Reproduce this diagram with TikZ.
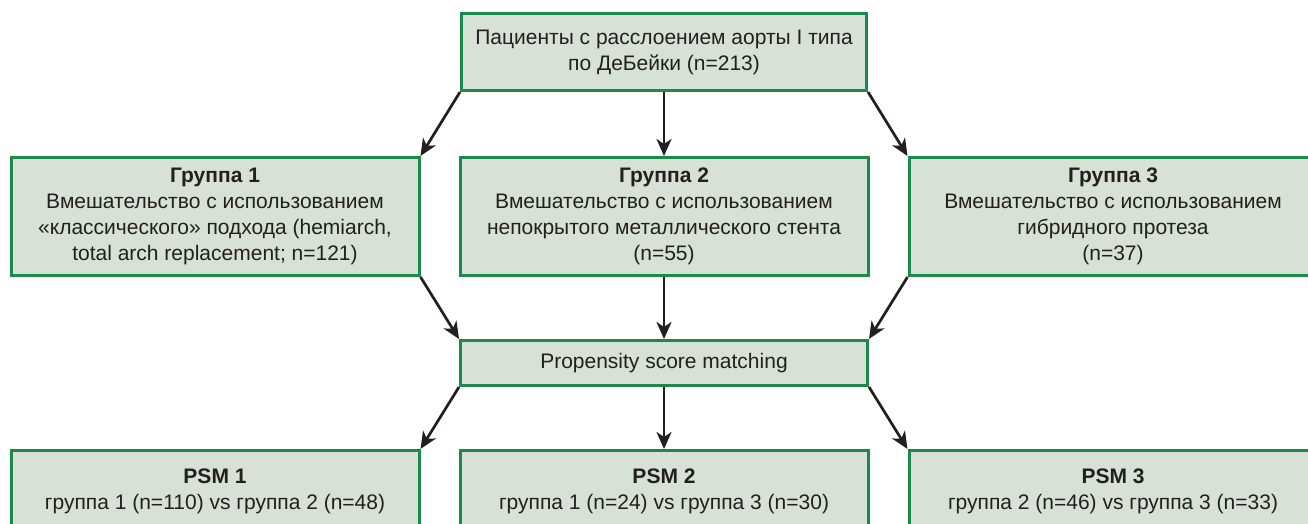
\documentclass[tikz,border=0pt]{standalone}
\usepackage{fontspec}
\setmainfont{Liberation Sans}
\usepackage{tikz}
\usetikzlibrary{arrows.meta,positioning}
\definecolor{boxfill}{HTML}{D7E1D5}
\definecolor{boxline}{HTML}{1B8A4B}
\definecolor{inkdark}{HTML}{231F20}
\tikzset{
  flowbox/.style={draw=boxline, line width=3pt, fill=boxfill, align=center,
    text=inkdark, inner sep=0pt, font=\fontsize{21}{26}\selectfont},
  groupbox/.style={flowbox, minimum width=408pt, minimum height=118pt},
  psmbox/.style={flowbox, minimum width=408pt, minimum height=81pt},
  arr/.style={-{Stealth[length=17pt,width=15pt,inset=5pt]}, line width=2.7pt, draw=inkdark}
}

\begin{document}
\begin{tikzpicture}[x=1pt, y=1pt, node distance=62pt and 38pt]
    \clip (0,0) rectangle (1308,-524);
    \node[flowbox, minimum width=405pt, minimum height=77pt] (pat) at (664,-52)
      {Пациенты с расслоением аорты I типа\\по ДеБейки (n=213)};
    \node[groupbox, below=64pt of pat] (grp2)
      {\textbf{Группа 2}\\Вмешательство с использованием\\непокрытого металлического стента\\(n=55)};
    \node[groupbox, left=of grp2] (grp1)
      {\textbf{Группа 1}\\Вмешательство с использованием\\«классического» подхода (hemiarch,\\total arch replacement; n=121)};
    \node[groupbox, right=of grp2] (grp3)
      {\textbf{Группа 3}\\Вмешательство с использованием\\гибридного протеза\\(n=37)};
    \node[flowbox, minimum width=407pt, minimum height=45pt, below=of grp2] (psm)
      {Propensity score matching};
    \node[psmbox, below=of psm] (res2)
      {\textbf{PSM 2}\\группа 1 (n=24) vs группа 3 (n=30)};
    \node[psmbox, left=of res2] (res1)
      {\textbf{PSM 1}\\группа 1 (n=110) vs группа 2 (n=48)};
    \node[psmbox, right=of res2] (res3)
      {\textbf{PSM 3}\\группа 2 (n=46) vs группа 3 (n=33)};
    \draw[arr] (pat.south west) -- (grp1.north east);
    \draw[arr] (pat.south) -- (grp2.north);
    \draw[arr] (pat.south east) -- (grp3.north west);
    \draw[arr] (grp1.south east) -- (psm.north west);
    \draw[arr] (grp2.south) -- (psm.north);
    \draw[arr] (grp3.south west) -- (psm.north east);
    \draw[arr] (psm.south west) -- (res1.north east);
    \draw[arr] (psm.south) -- (res2.north);
    \draw[arr] (psm.south east) -- (res3.north west);
  \end{tikzpicture}
\end{document}
